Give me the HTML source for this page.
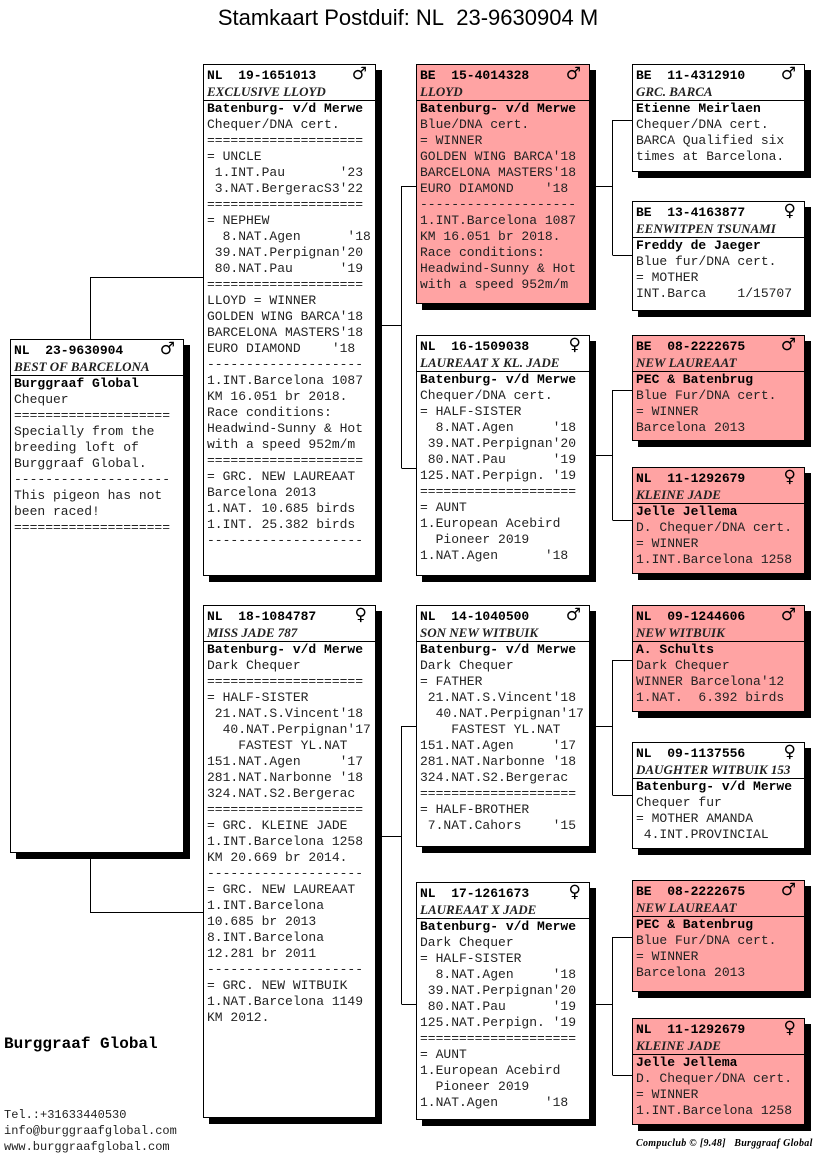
<!DOCTYPE html>
<html><head><meta charset="utf-8"><style>
body{margin:0;width:816px;height:1172px;background:#fff;position:relative;overflow:hidden;font-family:"Liberation Mono",monospace;}
.b{position:absolute;border:1px solid #000;box-shadow:6px 6px 0 #000;background:#fff;box-sizing:border-box;font-size:13px;line-height:16px;white-space:pre;padding:3px 0 0 3px;color:#222}
.p{background:#ffa3a3}
.h{font-weight:bold;position:relative;color:#000}
.h span{position:absolute;right:8px;top:-2px;font-size:17px;font-family:"DejaVu Sans",sans-serif;font-weight:normal}
.n{font-style:italic;font-weight:bold;font-family:"Liberation Serif",serif;font-size:13px;border-bottom:1px solid #000;margin:0 0 0 -3px;padding-left:3px}
.o{font-weight:bold;color:#000}
.t{position:absolute;left:0;width:816px;text-align:center;top:5px;font-family:"Liberation Sans",sans-serif;font-size:22px}
</style></head><body>
<div class="t">Stamkaart Postduif: NL&nbsp; 23-9630904 M</div>
<svg style="position:absolute;left:0;top:0" width="816" height="1172"><g stroke="#000" stroke-width="1" fill="none">
<path d="M90.5 339V277.5H203M90.5 853V912.5H203"/>
<path d="M376 325.5H401.5M401.5 186V468M401.5 186.5H416M401.5 468.5H416"/>
<path d="M376 836.5H401.5M401.5 726V1004M401.5 726.5H416M401.5 1004.5H416"/>
<path d="M590 186.5H612.5M612.5 120V255M612.5 120.5H632M612.5 255.5H632"/>
<path d="M590 455.5H612.5M612.5 390V520M612.5 390.5H632M612.5 520.5H632"/>
<path d="M590 726.5H612.5M612.5 660V795M612.5 660.5H632M612.5 795.5H632"/>
<path d="M590 1004.5H612.5M612.5 937V1075M612.5 937.5H632M612.5 1075.5H632"/>
</g></svg>

<div class="b" style="left:10px;top:339px;width:174px;height:514px"><div class="h">NL  23-9630904<span>♂</span></div><div class="n">BEST OF BARCELONA</div><div class="o">Burggraaf Global</div>Chequer
====================
Specially from the
breeding loft of
Burggraaf Global.
--------------------
This pigeon has not
been raced!
====================</div>

<div class="b" style="left:203px;top:64px;width:173px;height:512px"><div class="h">NL  19-1651013<span>♂</span></div><div class="n">EXCLUSIVE LLOYD</div><div class="o">Batenburg- v/d Merwe</div>Chequer/DNA cert.
====================
= UNCLE
 1.INT.Pau       '23
 3.NAT.BergeracS3'22
====================
= NEPHEW
  8.NAT.Agen      '18
 39.NAT.Perpignan'20
 80.NAT.Pau      '19
====================
LLOYD = WINNER
GOLDEN WING BARCA'18
BARCELONA MASTERS'18
EURO DIAMOND    '18
--------------------
1.INT.Barcelona 1087
KM 16.051 br 2018.
Race conditions:
Headwind-Sunny &amp; Hot
with a speed 952m/m
====================
= GRC. NEW LAUREAAT
Barcelona 2013
1.NAT. 10.685 birds
1.INT. 25.382 birds
--------------------</div>

<div class="b" style="left:203px;top:605px;width:173px;height:513px"><div class="h">NL  18-1084787<span>♀</span></div><div class="n">MISS JADE 787</div><div class="o">Batenburg- v/d Merwe</div>Dark Chequer
====================
= HALF-SISTER
 21.NAT.S.Vincent'18
  40.NAT.Perpignan'17
    FASTEST YL.NAT
151.NAT.Agen     '17
281.NAT.Narbonne '18
324.NAT.S2.Bergerac
====================
= GRC. KLEINE JADE
1.INT.Barcelona 1258
KM 20.669 br 2014.
--------------------
= GRC. NEW LAUREAAT
1.INT.Barcelona
10.685 br 2013
8.INT.Barcelona
12.281 br 2011
--------------------
= GRC. NEW WITBUIK
1.NAT.Barcelona 1149
KM 2012.</div>

<div class="b p" style="left:416px;top:64px;width:174px;height:240px"><div class="h">BE  15-4014328<span>♂</span></div><div class="n">LLOYD</div><div class="o">Batenburg- v/d Merwe</div>Blue/DNA cert.
= WINNER
GOLDEN WING BARCA'18
BARCELONA MASTERS'18
EURO DIAMOND    '18
--------------------
1.INT.Barcelona 1087
KM 16.051 br 2018.
Race conditions:
Headwind-Sunny &amp; Hot
with a speed 952m/m</div>

<div class="b" style="left:416px;top:335px;width:174px;height:241px"><div class="h">NL  16-1509038<span>♀</span></div><div class="n">LAUREAAT X KL. JADE</div><div class="o">Batenburg- v/d Merwe</div>Chequer/DNA cert.
= HALF-SISTER
  8.NAT.Agen     '18
 39.NAT.Perpignan'20
 80.NAT.Pau      '19
125.NAT.Perpign. '19
====================
= AUNT
1.European Acebird
  Pioneer 2019
1.NAT.Agen      '18</div>

<div class="b" style="left:416px;top:605px;width:174px;height:242px"><div class="h">NL  14-1040500<span>♂</span></div><div class="n">SON NEW WITBUIK</div><div class="o">Batenburg- v/d Merwe</div>Dark Chequer
= FATHER
 21.NAT.S.Vincent'18
  40.NAT.Perpignan'17
    FASTEST YL.NAT
151.NAT.Agen     '17
281.NAT.Narbonne '18
324.NAT.S2.Bergerac
====================
= HALF-BROTHER
 7.NAT.Cahors    '15</div>

<div class="b" style="left:416px;top:882px;width:174px;height:238px"><div class="h">NL  17-1261673<span>♀</span></div><div class="n">LAUREAAT X JADE</div><div class="o">Batenburg- v/d Merwe</div>Dark Chequer
= HALF-SISTER
  8.NAT.Agen     '18
 39.NAT.Perpignan'20
 80.NAT.Pau      '19
125.NAT.Perpign. '19
====================
= AUNT
1.European Acebird
  Pioneer 2019
1.NAT.Agen      '18</div>

<div class="b" style="left:632px;top:64px;width:173px;height:108px"><div class="h">BE  11-4312910<span>♂</span></div><div class="n">GRC. BARCA</div><div class="o">Etienne Meirlaen</div>Chequer/DNA cert.
BARCA Qualified six
times at Barcelona.</div>

<div class="b" style="left:632px;top:201px;width:173px;height:110px"><div class="h">BE  13-4163877<span>♀</span></div><div class="n">EENWITPEN TSUNAMI</div><div class="o">Freddy de Jaeger</div>Blue fur/DNA cert.
= MOTHER
INT.Barca    1/15707</div>

<div class="b p" style="left:632px;top:335px;width:173px;height:106px"><div class="h">BE  08-2222675<span>♂</span></div><div class="n">NEW LAUREAAT</div><div class="o">PEC &amp; Batenbrug</div>Blue Fur/DNA cert.
= WINNER
Barcelona 2013</div>

<div class="b p" style="left:632px;top:467px;width:173px;height:107px"><div class="h">NL  11-1292679<span>♀</span></div><div class="n">KLEINE JADE</div><div class="o">Jelle Jellema</div>D. Chequer/DNA cert.
= WINNER
1.INT.Barcelona 1258</div>

<div class="b p" style="left:632px;top:605px;width:173px;height:107px"><div class="h">NL  09-1244606<span>♂</span></div><div class="n">NEW WITBUIK</div><div class="o">A. Schults</div>Dark Chequer
WINNER Barcelona'12
1.NAT.  6.392 birds</div>

<div class="b" style="left:632px;top:742px;width:173px;height:107px"><div class="h">NL  09-1137556<span>♀</span></div><div class="n">DAUGHTER WITBUIK 153</div><div class="o">Batenburg- v/d Merwe</div>Chequer fur
= MOTHER AMANDA
 4.INT.PROVINCIAL</div>

<div class="b p" style="left:632px;top:880px;width:173px;height:112px"><div class="h">BE  08-2222675<span>♂</span></div><div class="n">NEW LAUREAAT</div><div class="o">PEC &amp; Batenbrug</div>Blue Fur/DNA cert.
= WINNER
Barcelona 2013</div>

<div class="b p" style="left:632px;top:1018px;width:173px;height:107px"><div class="h">NL  11-1292679<span>♀</span></div><div class="n">KLEINE JADE</div><div class="o">Jelle Jellema</div>D. Chequer/DNA cert.
= WINNER
1.INT.Barcelona 1258</div>

<div style="position:absolute;left:4px;top:1035px;font-size:16px;font-weight:bold;white-space:pre">Burggraaf Global</div>
<div style="position:absolute;left:4px;top:1107px;font-size:12px;line-height:16px;white-space:pre;color:#222">Tel.:+31633440530
info@burggraafglobal.com
www.burggraafglobal.com</div>
<div style="position:absolute;left:636px;top:1138px;font-size:10px;font-style:italic;font-weight:bold;font-family:'Liberation Serif',serif;white-space:pre;letter-spacing:0.3px">Compuclub © [9.48]   Burggraaf Global</div>
</body></html>
